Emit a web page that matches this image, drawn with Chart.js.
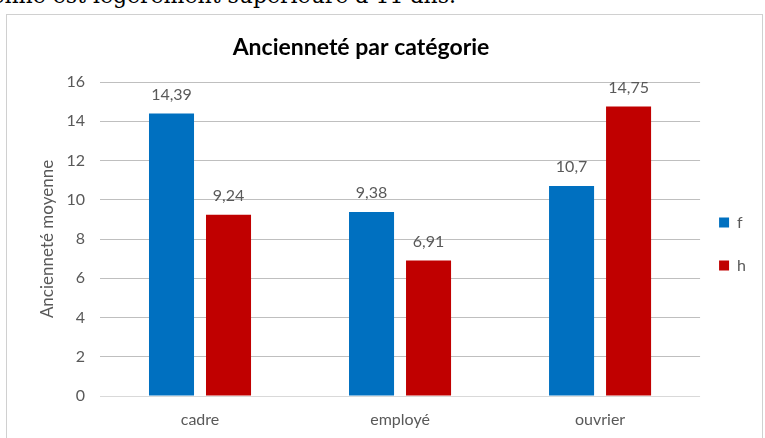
<!DOCTYPE html>
<html>
<head>
<meta charset="utf-8">
<script src="https://cdn.jsdelivr.net/npm/chart.js@4/dist/chart.umd.min.js"></script>
<style>
  html, body { margin: 0; padding: 0; background: #fff; overflow: hidden; }
  #page { position: relative; width: 765px; height: 438px; }
  #intro {
    position: absolute; right: 309px; top: -17px;
    font: 22px "DejaVu Serif", serif; color: #000; white-space: nowrap;
  }
  #frame {
    position: absolute; left: 6px; top: 14px; width: 757px; height: 440px;
    border: 1px solid #d0d0d0; box-sizing: border-box;
  }
  #wrap { position: absolute; left: 0; top: 0; width: 765px; height: 438px; }
</style>
</head>
<body>
<div id="page">
  <div id="intro">moyenne est légèrement supérieure à 11 ans.</div>
  <div id="frame"></div>
  <div id="wrap"><canvas id="ancChart"></canvas></div>
</div>
<script>
/*
| Ancienneté par catégorie
*/
var categories = ['cadre', 'employé', 'ouvrier'];
var seriesF = [14.39, 9.38, 10.7];
var seriesH = [9.24, 6.91, 14.75];
var yTicks = [0, 2, 4, 6, 8, 10, 12, 14, 16];

var FONT = 'Lato, "Open Sans", sans-serif';
var GREY = '#595959';

function fmt(v) {
    return String(v).replace('.', ',');
}

// title drawn by hand so it can sit where Excel put it
var chartTitle = {
    id: 'chartTitle',
    afterDraw: function (chart) {
        var ctx = chart.ctx;
        ctx.save();
        ctx.font = 'bold 23px ' + FONT;
        ctx.fillStyle = '#000';
        ctx.textAlign = 'center';
        ctx.textBaseline = 'middle';
        ctx.fillText('Ancienneté par catégorie', 361, 48);
        ctx.restore();
    }
};

// value labels above each bar
var valueLabels = {
    id: 'valueLabels',
    afterDatasetsDraw: function (chart) {
        var ctx = chart.ctx;
        ctx.save();
        ctx.font = '16px ' + FONT;
        ctx.fillStyle = GREY;
        ctx.textAlign = 'center';
        ctx.textBaseline = 'middle';
        chart.data.datasets.forEach(function (ds, i) {
            chart.getDatasetMeta(i).data.forEach(function (bar, j) {
                ctx.fillText(fmt(ds.data[j]), bar.x, bar.y - 19);
            });
        });
        ctx.restore();
    }
};

// nudge the legend box a little up and left
var legendNudge = {
    id: 'legendNudge',
    afterLayout: function (chart) {
        var lg = chart.legend;
        lg.top -= 16; lg.bottom -= 16;
        lg.left -= 8; lg.right -= 8;
    }
};

var ctx = document.getElementById('ancChart').getContext('2d');
window.ancChart = new Chart(ctx, {
    type: 'bar',
    data: {
        labels: categories,
        datasets: [{
            label: 'f',
            backgroundColor: '#0070C0',
            data: seriesF
        }, {
            label: 'h',
            backgroundColor: '#C00000',
            data: seriesH
        }]
    },
    options: {
        responsive: true,
        maintainAspectRatio: false,
        animation: false,
        layout: { padding: { top: 82, left: 33, right: 1, bottom: 0 } },
        datasets: {
            bar: { categoryPercentage: 0.57, barPercentage: 0.79 }
        },
        plugins: {
            title: { display: false },
            tooltip: { enabled: false },
            legend: {
                position: 'right',
                labels: {
                    boxWidth: 10, boxHeight: 10, padding: 27,
                    color: GREY, font: { family: FONT, size: 16 }
                }
            }
        },
        scales: {
            x: {
                grid: { display: false, drawTicks: false },
                border: { display: false },
                ticks: { color: GREY, font: { family: FONT, size: 16 }, padding: 14 },
                afterFit: function (s) { s.height = 42; }
            },
            y: {
                min: 0, max: 16,
                afterBuildTicks: function (s) {
                    s.ticks = yTicks.map(function (v) { return { value: v }; });
                },
                grid: {
                    drawTicks: false,
                    color: function (c) { return c.tick.value === 0 ? '#d9d9d9' : '#bfbfbf'; },
                    lineWidth: 1
                },
                border: { display: false },
                ticks: { color: GREY, font: { family: FONT, size: 16 }, padding: 15 },
                title: {
                    display: true, text: 'Ancienneté moyenne', color: GREY,
                    font: { family: FONT, size: 17 }, padding: 4
                },
                afterFit: function (s) { s.width = 67; }
            }
        }
    },
    plugins: [chartTitle, valueLabels, legendNudge]
});
</script>
</body>
</html>
